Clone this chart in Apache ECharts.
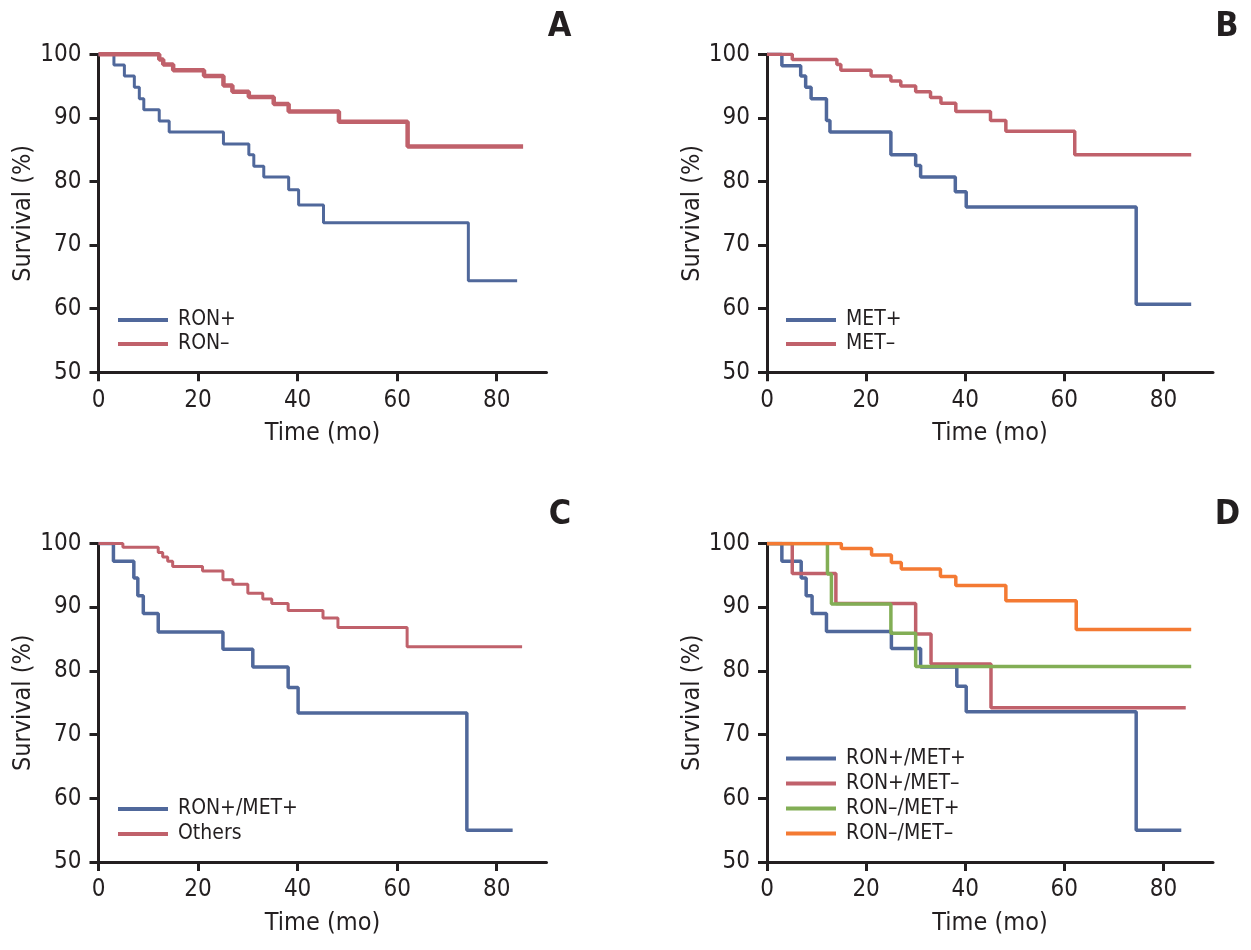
<!DOCTYPE html>
<html>
<head>
<meta charset="utf-8">
<script src="https://cdn.jsdelivr.net/npm/echarts@6/dist/echarts.min.js"></script>
<style>
  html, body { margin: 0; padding: 0; background: #fff; }
  #main { width: 1251px; height: 950px; }
</style>
</head>
<body>
<div id="main"></div>
<script>
// A: RON
const ronPosTime = [0, 3.1, 5.2, 7.2, 8.2, 9.1, 12.2, 14.2, 25.1, 30.2, 31.2, 33.2, 38.2, 40.2, 45.2, 74.3, 84.1]
const ronPosSurv = [100, 98.3, 96.6, 94.8, 93.0, 91.3, 89.5, 87.8, 85.9, 84.2, 82.4, 80.7, 78.7, 76.3, 73.5, 64.4, 64.4]
const ronNegTime = [0, 12.2, 13.0, 15.0, 21.2, 25.1, 26.9, 30.2, 35.2, 38.2, 48.3, 62.1, 85.3]
const ronNegSurv = [100, 99.2, 98.4, 97.5, 96.6, 95.1, 94.1, 93.3, 92.2, 91.0, 89.4, 85.5, 85.5]

// B: MET
const metPosTime = [0, 3.0, 6.8, 7.8, 8.9, 12.0, 12.7, 25.0, 30.0, 31.0, 38.0, 40.2, 74.5, 85.6]
const metPosSurv = [100, 98.2, 96.6, 94.8, 93.0, 89.6, 87.8, 84.2, 82.5, 80.7, 78.4, 76.0, 60.7, 60.7]
const metNegTime = [0, 5.1, 14.1, 14.9, 21.0, 25.0, 27.0, 30.0, 33.0, 35.1, 38.1, 45.1, 48.2, 62.1, 85.6]
const metNegSurv = [100, 99.2, 98.4, 97.5, 96.6, 95.8, 95.0, 94.1, 93.2, 92.3, 91.0, 89.6, 87.9, 84.2, 84.2]

// C: RON+/MET+ vs others
const bothPosTime = [0, 3.0, 7.1, 7.9, 9.0, 12.0, 25.0, 31.0, 38.1, 40.1, 74.0, 83.2]
const bothPosSurv = [100, 97.2, 94.6, 91.8, 89.0, 86.1, 83.4, 80.6, 77.4, 73.4, 55.0, 55.0]
const othersTime = [0, 4.9, 12.0, 12.9, 13.9, 14.9, 20.9, 25.0, 27.0, 30.0, 33.0, 34.8, 38.1, 45.1, 48.1, 62.0, 85.1]
const othersSurv = [100, 99.4, 98.6, 97.9, 97.2, 96.4, 95.7, 94.3, 93.6, 92.2, 91.3, 90.6, 89.5, 88.3, 86.8, 83.8, 83.8]

// D: four groups
const dBothPosTime = [0, 3.0, 6.9, 7.9, 9.1, 12.0, 25.1, 31.0, 38.3, 40.2, 74.5, 83.6]
const dBothPosSurv = [100, 97.2, 94.6, 91.8, 89.0, 86.2, 83.5, 80.6, 77.6, 73.6, 55.0, 55.0]
const ronPosMetNegTime = [0, 5.1, 13.9, 30.0, 33.1, 45.2, 84.5]
const ronPosMetNegSurv = [100, 95.3, 90.6, 85.8, 81.1, 74.2, 74.2]
const ronNegMetPosTime = [0, 12.2, 13.0, 25.0, 30.0, 85.6]
const ronNegMetPosSurv = [100, 95.2, 90.5, 85.9, 80.7, 80.7]
const bothNegTime = [0, 15.0, 21.1, 25.1, 27.1, 35.0, 38.1, 48.2, 62.4, 85.6]
const bothNegSurv = [100, 99.2, 98.2, 97.0, 96.0, 94.8, 93.4, 91.0, 86.5, 86.5]

const xTicks = [0, 20, 40, 60, 80]

const FONT = '"Liberation Sans Narrow", "DejaVu Sans Condensed", sans-serif'
const INK = '#231f20'
const BLUE = '#50689b'
const RED = '#c0616b'
const GREEN = '#82ae55'
const ORANGE = '#f47a33'

const pairs = (t, s) => t.map((v, i) => [v, s[i]])

const grids = [
  { left: 98.5, top: 54.3, width: 448, height: 318 },
  { left: 767, top: 54.3, width: 446, height: 318 },
  { left: 98.5, top: 543.5, width: 448, height: 318.5 },
  { left: 767, top: 543.5, width: 446, height: 318.5 }
]

const axisLine = { lineStyle: { color: INK, width: 3 } }
const axisTick = { length: 9, lineStyle: { color: INK, width: 3 } }

const xAxes = grids.map((g, i) => ({
  type: 'value',
  gridIndex: i,
  min: 0,
  max: 90,
  name: 'Time (mo)',
  nameLocation: 'middle',
  nameGap: 49,
  nameTextStyle: { fontFamily: FONT, fontSize: 25, color: INK },
  axisLine: axisLine,
  axisTick: Object.assign({ customValues: xTicks }, axisTick),
  axisLabel: { customValues: xTicks, margin: 16, fontFamily: FONT, fontSize: 24, color: INK },
  splitLine: { show: false }
}))

const yAxes = grids.map((g, i) => ({
  type: 'value',
  gridIndex: i,
  min: 50,
  max: 100,
  interval: 10,
  name: 'Survival (%)',
  nameLocation: 'middle',
  nameGap: 62,
  nameTextStyle: { fontFamily: FONT, fontSize: 25, color: INK },
  axisLine: axisLine,
  axisTick: axisTick,
  axisLabel: { margin: 17, fontFamily: FONT, fontSize: 24, color: INK },
  splitLine: { show: false }
}))

function km(name, idx, t, s, color, width) {
  return {
    name: name,
    type: 'line',
    step: 'end',
    xAxisIndex: idx,
    yAxisIndex: idx,
    symbol: 'none',
    color: color,
    lineStyle: { color: color, width: width },
    data: pairs(t, s),
    animation: false
  }
}

function legendAt(names, left, top, gap) {
  return {
    data: names,
    orient: 'vertical',
    left: left,
    top: top,
    padding: 0,
    itemGap: gap,
    icon: 'rect',
    itemWidth: 50,
    itemHeight: 4,
    textStyle: { fontFamily: FONT, fontSize: 21, color: INK, lineHeight: 24, padding: [0, 0, 0, 5] }
  }
}

function letter(ch, x, y) {
  return {
    type: 'text',
    x: x,
    y: y,
    style: { text: ch, font: 'bold 34px ' + FONT, fill: INK, align: 'center', verticalAlign: 'middle' }
  }
}

const chart = echarts.init(document.getElementById('main'))
chart.setOption({
  backgroundColor: '#fff',
  animation: false,
  grid: grids,
  xAxis: xAxes,
  yAxis: yAxes,
  legend: [
    legendAt(['RON+', 'RON–'], 118, 308, 0),
    legendAt(['MET+', 'MET–'], 786, 308, 0),
    legendAt(['RON+/MET+', 'Others'], 118, 797, 1),
    legendAt(['RON+/MET+', 'RON+/MET–', 'RON–/MET+', 'RON–/MET–'], 786, 746.5, 1)
  ],
  graphic: [
    letter('A', 559.5, 27),
    letter('B', 1227, 27),
    letter('C', 560, 515),
    letter('D', 1227.5, 515)
  ],
  series: [
    km('RON+', 0, ronPosTime, ronPosSurv, BLUE, 3),
    km('RON–', 0, ronNegTime, ronNegSurv, RED, 4.5),
    km('MET+', 1, metPosTime, metPosSurv, BLUE, 3.5),
    km('MET–', 1, metNegTime, metNegSurv, RED, 3.5),
    km('RON+/MET+', 2, bothPosTime, bothPosSurv, BLUE, 3.5),
    km('Others', 2, othersTime, othersSurv, RED, 3),
    km('RON+/MET+', 3, dBothPosTime, dBothPosSurv, BLUE, 3.5),
    km('RON+/MET–', 3, ronPosMetNegTime, ronPosMetNegSurv, RED, 3.5),
    km('RON–/MET+', 3, ronNegMetPosTime, ronNegMetPosSurv, GREEN, 3.5),
    km('RON–/MET–', 3, bothNegTime, bothNegSurv, ORANGE, 3.5)
  ]
})
</script>
</body>
</html>
